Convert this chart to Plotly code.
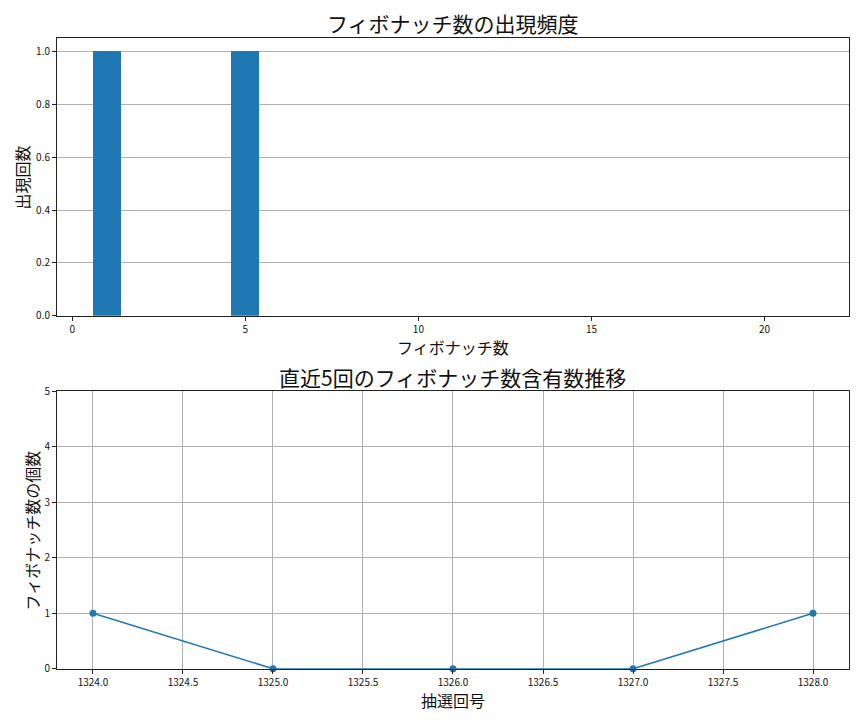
import plotly.graph_objects as go

# ----------------------------
# Data
# ----------------------------

fib_numbers = [1, 2, 3, 5, 8, 13, 21]
fib_counts = [1, 0, 0, 1, 0, 0, 0]

draw_ids = [1324, 1325, 1326, 1327, 1328]
fib_per_draw = [1, 0, 0, 0, 1]

BLUE = "#1f77b4"
FONT = "Noto Sans CJK JP"

fig = go.Figure()

fig.add_trace(go.Bar(
    x=fib_numbers, y=fib_counts, width=0.8,
    marker=dict(color=BLUE, line=dict(width=0)),
    xaxis="x", yaxis="y", showlegend=False,
))

fig.add_trace(go.Scatter(
    x=draw_ids, y=fib_per_draw, mode="lines+markers",
    line=dict(color=BLUE, width=1.5), marker=dict(color=BLUE, size=7),
    xaxis="x2", yaxis="y2", showlegend=False, cliponaxis=False,
))

axis_common = dict(
    showline=True, linecolor="#222", linewidth=1, mirror=True,
    ticks="outside", ticklen=4, tickcolor="#222",
    tickfont=dict(family=FONT, size=10, color="#111"),
    gridcolor="#b0b0b0", gridwidth=0.8, zeroline=False,
)

fig.update_layout(
    width=864, height=720,
    margin=dict(l=0, r=0, t=0, b=0),
    plot_bgcolor="white", paper_bgcolor="white",
    font=dict(family=FONT, color="#111"),
    bargap=0,
    xaxis=dict(axis_common, domain=[0.0567, 0.9734], anchor="y",
               range=[-0.44, 22.44], tickvals=[0, 5, 10, 15, 20],
               showgrid=False),
    yaxis=dict(axis_common, domain=[0.5753, 0.9686], anchor="x",
               range=[0, 1.05], tickvals=[0, 0.2, 0.4, 0.6, 0.8, 1.0],
               tickformat=".1f", showgrid=True),
    xaxis2=dict(axis_common, domain=[0.0567, 0.9734], anchor="y2",
                range=[1323.8, 1328.2], dtick=0.5, tickformat=".1f",
                showgrid=True),
    yaxis2=dict(axis_common, domain=[0.0754, 0.4688], anchor="x2",
                range=[0, 5], dtick=1, showgrid=True),
)

# titles and axis labels
texts = [
    ("フィボナッチ数の出現頻度", 0.515, 0.9899, 21, 0),
    ("直近5回のフィボナッチ数含有数推移", 0.515, 0.4886, 21, 0),
    ("フィボナッチ数", 0.515, 0.5318, 16, 0),
    ("抽選回号", 0.515, 0.0312, 16, 0),
    ("出現回数", 0.0162, 0.7713, 16, -90),
    ("フィボナッチ数の個数", 0.0278, 0.2714, 16, -90),
]
for txt, x, y, size, ang in texts:
    fig.add_annotation(
        text=txt, x=x, y=y, xref="paper", yref="paper",
        xanchor="center", yanchor="middle", showarrow=False,
        borderpad=0, textangle=ang,
        font=dict(family=FONT, size=size, color="#111"),
    )

fig.write_html("out.html")
